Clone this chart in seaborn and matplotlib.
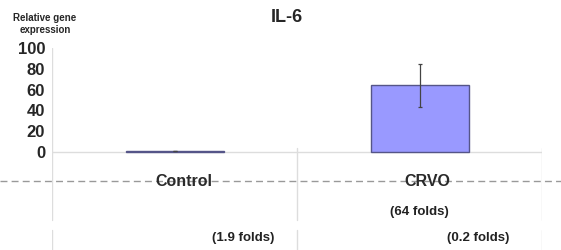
import matplotlib
matplotlib.use('Agg')
import matplotlib.pyplot as plt
import seaborn as sns
import pandas as pd

groups = ['Control', 'CRVO']
expression = [1.0, 64.0]
errors = [0.3, 21.0]
yticks = [0, 20, 40, 60, 80, 100]
fold_notes = ['(64 folds)', '(1.9 folds)', '(0.2 folds)']

sns.set_style('white')
plt.rcParams['font.family'] = ['Liberation Sans', 'DejaVu Sans']

df = pd.DataFrame({'group': groups, 'value': expression})

fig = plt.figure(figsize=(5.61, 2.5), dpi=100)
ax = fig.add_axes([52 / 561, 0, 490 / 561, 202 / 250])

sns.barplot(data=df, x='group', y='value', color='#9999ff', width=0.4,
            errorbar=None, edgecolor='#555588', linewidth=1, saturation=1, ax=ax)
ax.errorbar(range(len(groups)), expression, yerr=errors, fmt='none',
            ecolor='#444444', elinewidth=0.9, capsize=1.5, capthick=0.9, zorder=5)

ax.set_xlim(-0.5, 1.5)
ax.set_ylim(-94.2, 100)
ax.set_yticks(yticks)
ax.set_yticklabels([str(t) for t in yticks], fontsize=12, fontweight='bold')
ax.tick_params(axis='y', length=0, pad=5)
ax.set_xticks([])
ax.set_xlabel('')
ax.set_ylabel('')
for s in ax.spines.values():
    s.set_visible(False)

# frame lines of the slide table
grid = '#dddddd'
ax.plot([-0.5, 1.5], [0, 0], color=grid, lw=1, zorder=0)
ax.plot([-0.5, -0.5], [100, -65], color=grid, lw=1, zorder=0)
for xv in [0.5, 1.5]:
    ax.plot([xv, xv], [4, -65], color=grid, lw=1, zorder=0)
for xv in [-0.5, 0.5, 1.5]:
    ax.plot([xv, xv], [-75, -94.2], color=grid, lw=1, zorder=0)

ax.axhline(-28, xmin=-52 / 490, xmax=1 + 19 / 490, color='#999999', lw=1,
           ls=(0, (5, 3)), clip_on=False, zorder=1)

ax.text(0.04, -28, groups[0], ha='center', va='center', fontsize=11.5,
        fontweight='bold', color='#2a2a2a', zorder=3)
ax.text(1.03, -28, groups[1], ha='center', va='center', fontsize=11.5,
        fontweight='bold', color='#2a2a2a', zorder=3)
ax.text(1.0, -57.7, fold_notes[0], ha='center', va='center', fontsize=9.5,
        fontweight='bold', color='#222222')
ax.text(0.28, -83, fold_notes[1], ha='center', va='center', fontsize=9.5,
        fontweight='bold', color='#222222')
ax.text(1.24, -83, fold_notes[2], ha='center', va='center', fontsize=9.5,
        fontweight='bold', color='#222222')

fig.text(287 / 561, 1 - 18 / 250, 'IL-6', ha='center', va='center',
         fontsize=13, fontweight='bold')
fig.text(45 / 561, 1 - 24 / 250, 'Relative gene\nexpression', ha='center',
         va='center', fontsize=7, fontweight='bold', linespacing=1.15)

plt.savefig('out.png', dpi=100)
